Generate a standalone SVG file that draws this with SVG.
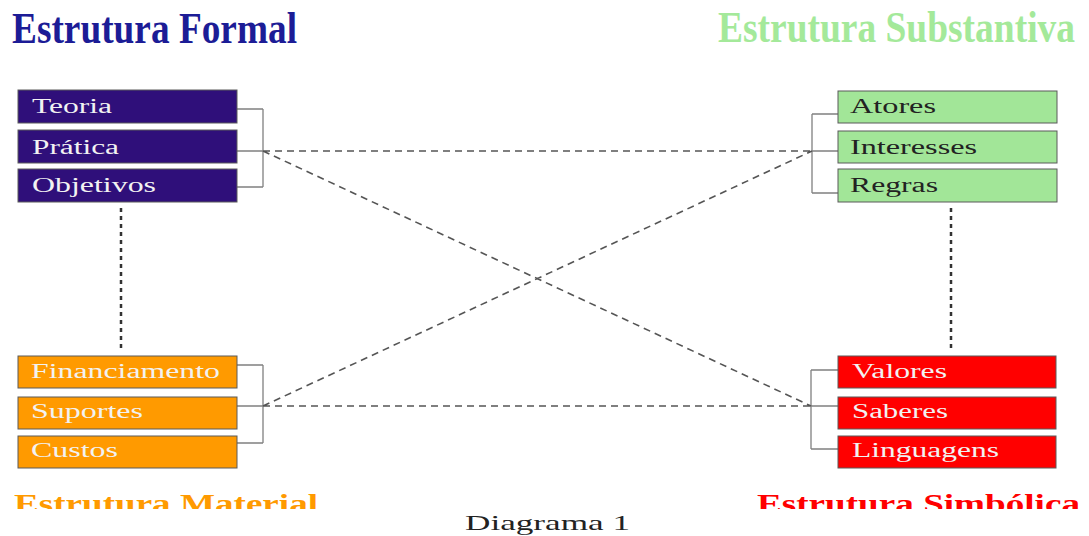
<svg xmlns="http://www.w3.org/2000/svg" width="1089" height="536" viewBox="0 0 1089 536">
<style>
.box{stroke:#5a5a5a;stroke-width:1}
.purple{fill:#2f0f7a}
.green{fill:#a2e698}
.orange{fill:#ff9a00}
.red{fill:#ff0000}
.lbl{font-family:"Liberation Serif",serif;font-size:20px}
.w{fill:#f2f2f2}
.d{fill:#222}
.br{fill:none;stroke:#808080;stroke-width:1.3}
.dash{fill:none;stroke:#555;stroke-width:1.6;stroke-dasharray:7,5}
.dot{fill:none;stroke:#333;stroke-width:2.5;stroke-dasharray:4,4}
.title{font-family:"Liberation Serif",serif;font-weight:bold;font-size:44px}
.sub{font-family:"Liberation Serif",serif;font-weight:bold;font-size:27px}
</style>
<defs>
<clipPath id="clipb"><rect x="0" y="480" width="1089" height="29"/></clipPath>
</defs>
<rect width="1089" height="536" fill="#fff"/>
<text class="title" x="12" y="43" fill="#1c1c96" textLength="285" lengthAdjust="spacingAndGlyphs">Estrutura Formal</text>
<text class="title" x="718" y="42" fill="#a4e99a" textLength="357" lengthAdjust="spacingAndGlyphs">Estrutura Substantiva</text>
<g id="connectors">
<path class="br" d="M237,109H263M237,151H263M237,187H263M263,109V187"/>
<path class="br" d="M838,114H812M838,151H812M838,193H812M812,114V193"/>
<path class="br" d="M237,365H263M237,406H263M237,443H263M263,365V443"/>
<path class="br" d="M838,370H811M838,406H811M838,449H811M811,370V449"/>
<path class="dash" d="M263,151L812,151M263,151L811,406M263,406L812,151M263,406L811,406"/>
<path class="dot" d="M121,208V352M951,208V352"/>
</g>
<g id="teoria"><rect class="box purple" x="18" y="90" width="219" height="33"/><text class="lbl w" x="32" y="113" textLength="80" lengthAdjust="spacingAndGlyphs">Teoria</text></g>
<g id="pratica"><rect class="box purple" x="18" y="130" width="219" height="33"/><text class="lbl w" x="32" y="154" textLength="87" lengthAdjust="spacingAndGlyphs">Prática</text></g>
<g id="objetivos"><rect class="box purple" x="18" y="169" width="219" height="33"/><text class="lbl w" x="32" y="192" textLength="124" lengthAdjust="spacingAndGlyphs">Objetivos</text></g>
<g id="atores"><rect class="box green" x="838" y="91" width="219" height="32"/><text class="lbl d" x="850" y="113" textLength="86" lengthAdjust="spacingAndGlyphs">Atores</text></g>
<g id="interesses"><rect class="box green" x="838" y="131" width="219" height="32"/><text class="lbl d" x="850" y="154" textLength="127" lengthAdjust="spacingAndGlyphs">Interesses</text></g>
<g id="regras"><rect class="box green" x="838" y="169" width="219" height="33"/><text class="lbl d" x="850" y="192" textLength="88" lengthAdjust="spacingAndGlyphs">Regras</text></g>
<g id="financiamento"><rect class="box orange" x="18" y="356" width="219" height="32"/><text class="lbl w" x="31" y="378" textLength="189" lengthAdjust="spacingAndGlyphs">Financiamento</text></g>
<g id="suportes"><rect class="box orange" x="18" y="397" width="219" height="32"/><text class="lbl w" x="31" y="418" textLength="112" lengthAdjust="spacingAndGlyphs">Suportes</text></g>
<g id="custos"><rect class="box orange" x="18" y="436" width="219" height="32"/><text class="lbl w" x="31" y="457" textLength="87" lengthAdjust="spacingAndGlyphs">Custos</text></g>
<g id="valores"><rect class="box red" x="838" y="356" width="218" height="32"/><text class="lbl w" x="852" y="378" textLength="95" lengthAdjust="spacingAndGlyphs">Valores</text></g>
<g id="saberes"><rect class="box red" x="838" y="397" width="218" height="32"/><text class="lbl w" x="852" y="418" textLength="96" lengthAdjust="spacingAndGlyphs">Saberes</text></g>
<g id="linguagens"><rect class="box red" x="838" y="436" width="218" height="32"/><text class="lbl w" x="852" y="457" textLength="147" lengthAdjust="spacingAndGlyphs">Linguagens</text></g>
<g clip-path="url(#clipb)">
<text class="sub" x="14" y="513" fill="#ff9a00" textLength="304" lengthAdjust="spacingAndGlyphs">Estrutura Material</text>
<text class="sub" x="757" y="513" fill="#ff0000" textLength="323" lengthAdjust="spacingAndGlyphs">Estrutura Simbólica</text>
</g>
<text x="465" y="530" font-family="Liberation Serif, serif" font-size="22" fill="#222" textLength="165" lengthAdjust="spacingAndGlyphs">Diagrama 1</text>
</svg>
